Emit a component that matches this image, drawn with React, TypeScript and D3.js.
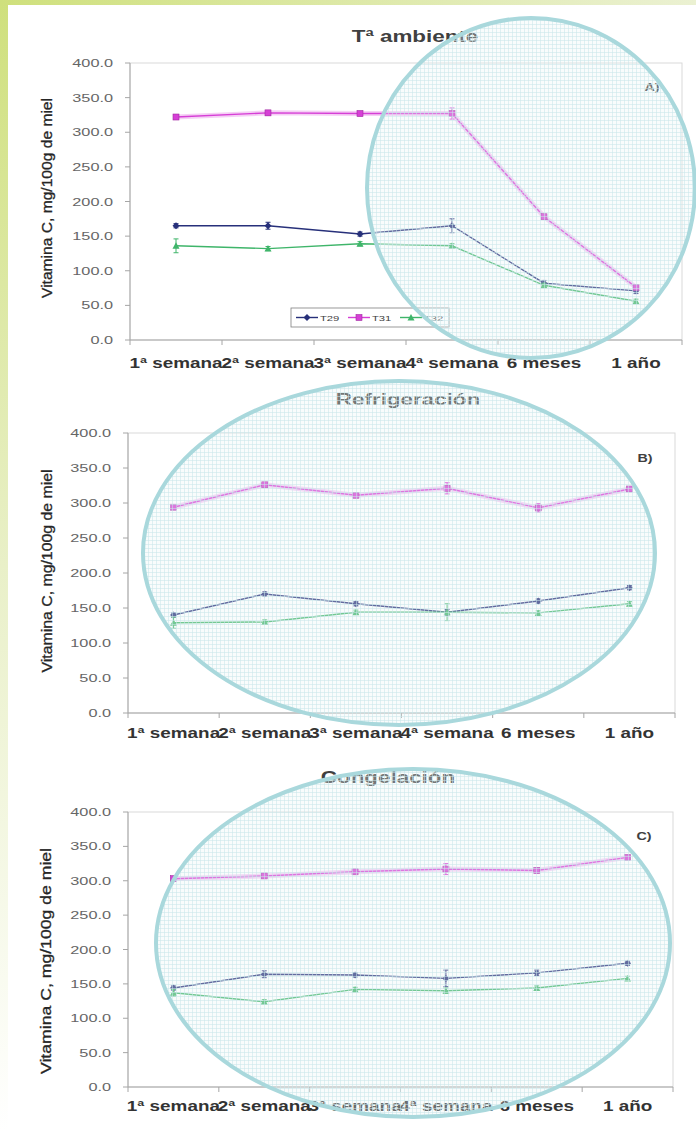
import React from "react";
import * as d3 from "d3";

const categories = ["1ª semana", "2ª semana", "3ª semana", "4ª semana", "6 meses", "1 año"];
const yTicks = [0, 50, 100, 150, 200, 250, 300, 350, 400];
const seriesNames = ["T29", "T31", "T32"];

// A) Tª ambiente
const ambT29 = [165, 165, 153, 165, 82, 71];
const ambT31 = [322, 328, 327, 327, 178, 76];
const ambT32 = [136, 132, 139, 136, 79, 56];
const ambErrT29 = [3, 5, 3, 10, 4, 4];
const ambErrT31 = [3, 3, 3, 8, 3, 4];
const ambErrT32 = [10, 3, 3, 3, 3, 3];

// B) Refrigeración
const refT29 = [140, 170, 156, 144, 160, 179];
const refT31 = [294, 326, 311, 321, 293, 320];
const refT32 = [129, 130, 144, 144, 143, 156];
const refErrT29 = [3, 3, 3, 4, 3, 3];
const refErrT31 = [3, 3, 3, 8, 6, 3];
const refErrT32 = [8, 3, 3, 12, 3, 3];

// C) Congelación
const conT29 = [144, 164, 163, 158, 166, 180];
const conT31 = [303, 307, 313, 317, 315, 334];
const conT32 = [137, 124, 142, 140, 144, 158];
const conErrT29 = [3, 5, 3, 12, 4, 3];
const conErrT31 = [3, 3, 3, 8, 4, 3];
const conErrT32 = [5, 3, 3, 4, 3, 3];

const colors = { T29: "#27307a", T31: "#d63fd6", T32: "#3fb56a" };

const panels = [
  {
    title: "Tª ambiente", tag: "A)",
    series: [ambT29, ambT31, ambT32], errs: [ambErrT29, ambErrT31, ambErrT32],
    x0: 130, x1: 682, yTop: 63, yBot: 340, titleX: 415, titleY: 42, labelY: 368,
    tagX: 652, tagY: 91, ylabX: 47, ylabY: 198, ylabLen: 200, legend: true,
  },
  {
    title: "Refrigeración", tag: "B)",
    series: [refT29, refT31, refT32], errs: [refErrT29, refErrT31, refErrT32],
    x0: 128, x1: 675, yTop: 433, yBot: 713, titleX: 408, titleY: 405, labelY: 738,
    tagX: 645, tagY: 462, ylabX: 47, ylabY: 571, ylabLen: 203, legend: false,
  },
  {
    title: "Congelación", tag: "C)",
    series: [conT29, conT31, conT32], errs: [conErrT29, conErrT31, conErrT32],
    x0: 128, x1: 673, yTop: 812, yBot: 1087, titleX: 388, titleY: 783, labelY: 1111,
    tagX: 644, tagY: 840, ylabX: 46, ylabY: 961, ylabLen: 226, legend: false,
  },
];

const ellipses = [
  { cx: 531, cy: 188, rx: 164, ry: 170 },
  { cx: 399, cy: 553, rx: 256, ry: 172 },
  { cx: 413, cy: 943, rx: 257, ry: 174 },
];

const FONT = "'Liberation Sans', Arial, sans-serif";

function SText(props: any) {
  const { x, y, sx = 1.4, anchor = "start", children, ...rest } = props;
  return (
    <text
      transform={`translate(${x},${y}) scale(${sx},1)`}
      textAnchor={anchor}
      fontFamily={FONT}
      {...rest}
    >
      {children}
    </text>
  );
}

function Marker({ name, x, y }: { name: string; x: number; y: number }) {
  const c = (colors as any)[name];
  if (name === "T29") {
    return <path d={`M${x},${y - 3.5}L${x + 3.5},${y}L${x},${y + 3.5}L${x - 3.5},${y}Z`} fill={c} />;
  }
  if (name === "T31") {
    return <rect x={x - 3} y={y - 3} width={6} height={6} fill={c} stroke="#a02aa0" strokeWidth={0.6} />;
  }
  return <path d={`M${x},${y - 3.5}L${x + 3.5},${y + 3}L${x - 3.5},${y + 3}Z`} fill={c} />;
}

function Panel({ p }: { p: any }) {
  const x = d3.scaleBand<string>().domain(categories).range([p.x0, p.x1]);
  const y = d3.scaleLinear().domain([0, 400]).range([p.yBot, p.yTop]);
  const cx = (c: string) => (x(c) as number) + x.bandwidth() / 2;
  const line = d3
    .line<number>()
    .x((_, i) => cx(categories[i]))
    .y((v) => y(v));
  const bounds = categories.map((c) => x(c) as number).concat([p.x1]);
  return (
    <g>
      <rect x={p.x0} y={p.yTop} width={p.x1 - p.x0} height={p.yBot - p.yTop} fill="none" stroke="#d9d9d9" strokeWidth={1} />
      <line x1={p.x0} x2={p.x0} y1={p.yTop} y2={p.yBot} stroke="#a6a6a6" />
      <line x1={p.x0} x2={p.x1} y1={p.yBot} y2={p.yBot} stroke="#a6a6a6" />
      {yTicks.map((t) => (
        <g key={t}>
          <line x1={p.x0 - 5} x2={p.x0} y1={y(t)} y2={y(t)} stroke="#a6a6a6" />
          <SText x={p.x0 - 17} y={y(t) + 4} sx={1.48} anchor="end" fontSize={11} fill="#666">
            {d3.format(".1f")(t)}
          </SText>
        </g>
      ))}
      {bounds.map((b, i) => (
        <line key={i} x1={b} x2={b} y1={p.yBot} y2={p.yBot + 5} stroke="#a6a6a6" />
      ))}
      {categories.map((c) => (
        <SText key={c} x={cx(c)} y={p.labelY} sx={1.35} anchor="middle" fontSize={14} fontWeight="bold" fill="#333">
          {c}
        </SText>
      ))}
      <text
        transform={`translate(${p.ylabX + 5},${p.ylabY}) rotate(-90)`}
        textAnchor="middle"
        fontFamily={FONT}
        fontSize={14}
        fill="#262626"
        stroke="#262626"
        strokeWidth={0.3}
        textLength={p.ylabLen}
        lengthAdjust="spacingAndGlyphs"
      >
        Vitamina C, mg/100g de miel
      </text>
      <SText x={p.titleX} y={p.titleY} sx={1.4} anchor="middle" fontSize={16} fontWeight="bold" fill="#404040">
        {p.title}
      </SText>
      <SText x={p.tagX} y={p.tagY} sx={1.3} anchor="middle" fontSize={11} fontWeight="bold" fill="#404040">
        {p.tag}
      </SText>
      {seriesNames.map((name, si) => {
        const vals: number[] = p.series[si];
        const errs: number[] = p.errs[si];
        const c = (colors as any)[name];
        return (
          <g key={name}>
            {name === "T31" && (
              <path d={line(vals) as string} fill="none" stroke={c} strokeOpacity={0.25} strokeWidth={5} />
            )}
            <path d={line(vals) as string} fill="none" stroke={c} strokeWidth={1.4} />
            {vals.map((v, i) => {
              const px = cx(categories[i]);
              return (
                <g key={i}>
                  <line x1={px} x2={px} y1={y(v + errs[i])} y2={y(v - errs[i])} stroke={c} strokeWidth={1} />
                  <line x1={px - 2.5} x2={px + 2.5} y1={y(v + errs[i])} y2={y(v + errs[i])} stroke={c} strokeWidth={1} />
                  <line x1={px - 2.5} x2={px + 2.5} y1={y(v - errs[i])} y2={y(v - errs[i])} stroke={c} strokeWidth={1} />
                  <Marker name={name} x={px} y={y(v)} />
                </g>
              );
            })}
          </g>
        );
      })}
      {p.legend && (
        <g>
          <rect x={291} y={308} width={158} height={19} fill="#fff" stroke="#7f7f7f" strokeWidth={0.8} />
          {seriesNames.map((name, i) => {
            const lx = 296 + i * 52;
            const ly = 317.5;
            const c = (colors as any)[name];
            return (
              <g key={name}>
                <line x1={lx} x2={lx + 22} y1={ly} y2={ly} stroke={c} strokeWidth={1.4} />
                <Marker name={name} x={lx + 11} y={ly} />
                <SText x={lx + 24} y={ly + 3} sx={1.4} fontSize={8} fill="#404040">
                  {name}
                </SText>
              </g>
            );
          })}
        </g>
      )}
    </g>
  );
}

export default function App() {
  return (
    <svg
      width={696}
      height={1132}
      style={{ position: "absolute", left: 0, top: 0, background: "#fff" }}
    >
      <defs>
        <linearGradient id="leftStrip" x1="0" y1="0" x2="0" y2="1">
          <stop offset="0" stopColor="#cfe07c" />
          <stop offset="0.5" stopColor="#e9f0c8" />
          <stop offset="1" stopColor="#ffffff" />
        </linearGradient>
        <linearGradient id="topStrip" x1="0" y1="0" x2="1" y2="0">
          <stop offset="0" stopColor="#cfe07c" />
          <stop offset="1" stopColor="#ebf1d2" />
        </linearGradient>
        <pattern id="grid" width={4} height={4} patternUnits="userSpaceOnUse">
          <rect width={4} height={4} fill="#eef8f8" fillOpacity={0.3} />
          <path d="M0,0.5H4M0.5,0V4" stroke="#c9e7ea" strokeOpacity={0.55} strokeWidth={1} />
        </pattern>
      </defs>
      <rect x={0} y={0} width={696} height={1132} fill="#fff" />
      <rect x={0} y={0} width={8} height={1132} fill="url(#leftStrip)" />
      <rect x={0} y={0} width={696} height={5} fill="url(#topStrip)" />
      {panels.map((p, i) => (
        <Panel key={i} p={p} />
      ))}
      {ellipses.map((e, i) => (
        <ellipse key={i} cx={e.cx} cy={e.cy} rx={e.rx} ry={e.ry} fill="url(#grid)" stroke="#a9d8dc" strokeWidth={4} />
      ))}
    </svg>
  );
}
